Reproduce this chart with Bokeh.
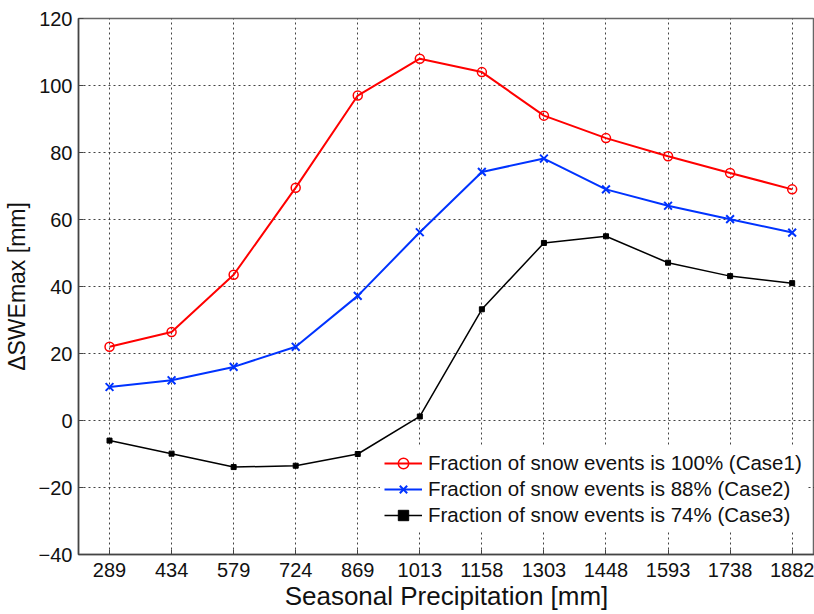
from bokeh.plotting import figure
from bokeh.models import FixedTicker, Range1d, Legend, LegendItem
from bokeh.embed import file_html
from bokeh.resources import INLINE

precip = ["289", "434", "579", "724", "869", "1013", "1158", "1303", "1448", "1593", "1738", "1882"]
case1 = [22, 26.4, 43.5, 69.5, 97, 108, 104, 91, 84.3, 78.9, 73.9, 69]
case2 = [10, 12, 16, 22, 37.2, 56.2, 74.2, 78.2, 69, 64.1, 60.1, 56.1]
case3 = [-6, -9.9, -13.9, -13.5, -10, 1.2, 33.2, 53, 55, 47.1, 43.1, 41]
labels = ["Fraction of snow events is 100% (Case1)",
          "Fraction of snow events is 88% (Case2)",
          "Fraction of snow events is 74% (Case3)"]
yticks = [-40, -20, 0, 20, 40, 60, 80, 100, 120]

xs = list(range(1, len(precip) + 1))
FONT = "Liberation Sans"

p = figure(width=814, height=614, output_backend="svg", toolbar_location=None,
           x_range=Range1d(0.5, 12.36), y_range=Range1d(-40, 120),
           min_border_left=78, min_border_top=18, min_border_bottom=60, min_border_right=0)

p.background_fill_color = "white"
p.border_fill_color = "white"
p.outline_line_color = "#666666"
p.outline_line_width = 1.5

p.xaxis.ticker = FixedTicker(ticks=xs)
p.xaxis.major_label_overrides = {i: s for i, s in zip(xs, precip)}
p.yaxis.ticker = FixedTicker(ticks=yticks)

for ax in (p.xaxis, p.yaxis):
    ax.major_tick_in = 5
    ax.major_tick_out = 0
    ax.minor_tick_in = 0
    ax.minor_tick_out = 0
    ax.axis_line_color = "#444444"
    ax.axis_line_width = 1.5
    ax.major_tick_line_color = "#444444"
    ax.major_label_text_font = FONT
    ax.major_label_text_font_size = "20px"
    ax.major_label_text_color = "#111111"
    ax.axis_label_text_font = FONT
    ax.axis_label_text_font_style = "normal"
    ax.axis_label_text_color = "#111111"

p.xaxis.axis_label = "Seasonal Precipitation [mm]"
p.yaxis.axis_label = "ΔSWEmax [mm]"
p.xaxis.axis_label_text_font_size = "26px"
p.yaxis.axis_label_text_font_size = "23px"
p.xaxis.major_label_standoff = 8
p.yaxis.major_label_standoff = 6
p.xaxis.axis_label_standoff = 1
p.yaxis.axis_label_standoff = 6

for g in (p.xgrid, p.ygrid):
    g.grid_line_color = "#222222"
    g.grid_line_alpha = 0.85
    g.grid_line_dash = "2 3"
    g.grid_line_width = 1
p.xgrid.ticker = FixedTicker(ticks=xs)
p.ygrid.ticker = FixedTicker(ticks=yticks)

r1 = p.line(xs, case1, line_color="#ff0000", line_width=2)
m1 = p.scatter(xs, case1, marker="circle", size=9, fill_color=None, line_color="#ff0000", line_width=1.5)
r2 = p.line(xs, case2, line_color="#0033ff", line_width=2)
m2 = p.scatter(xs, case2, marker="x", size=11, line_color="#0033ff", line_width=2)
r3 = p.line(xs, case3, line_color="#000000", line_width=1.5)
m3 = p.scatter(xs, case3, marker="square", size=5, fill_color="#000000", line_color="#000000")

legend = Legend(items=[LegendItem(label=labels[0], renderers=[r1, m1]),
                       LegendItem(label=labels[1], renderers=[r2, m2]),
                       LegendItem(label=labels[2], renderers=[r3, m3])],
                location=(302, 22))
legend.label_text_font = FONT
legend.label_text_font_size = "20.5px"
legend.label_text_color = "#111111"
legend.background_fill_color = "white"
legend.background_fill_alpha = 1.0
legend.border_line_alpha = 0
legend.padding = 4
legend.margin = 0
legend.spacing = 0
legend.label_height = 26
legend.glyph_height = 26
legend.glyph_width = 38
legend.label_standoff = 6
p.add_layout(legend, "center")

open("out.html", "w").write(file_html(p, INLINE))
